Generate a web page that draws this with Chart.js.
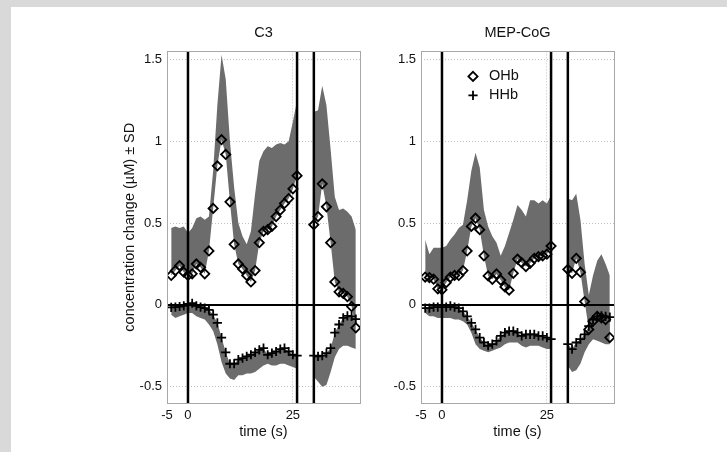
<!DOCTYPE html>
<html><head><meta charset="utf-8">
<script src="https://cdn.jsdelivr.net/npm/chart.js@4/dist/chart.umd.min.js"></script>
<style>
html,body{margin:0;padding:0;background:#fff;width:727px;height:452px;overflow:hidden}
#topbar{position:absolute;left:0;top:0;width:727px;height:7px;background:#d9d9d9}
#leftbar{position:absolute;left:0;top:0;width:11px;height:452px;background:#d9d9d9}
canvas{position:absolute;top:0}
#c1{left:0}
#c2{left:370px}
</style></head><body>
<div id="topbar"></div><div id="leftbar"></div>
<canvas id="c1" width="370" height="452"></canvas>
<canvas id="c2" width="357" height="452"></canvas>
<script>
// ---- data ----
const time = [-4,-3,-2,-1,0,1,2,3,4,5,6,7,8,9,10,11,12,13,14,15,16,17,18,19,20,21,22,23,24,25,26,
              30,31,32,33,34,35,36,37,38,39,40];
const panelTitles = ['C3', 'MEP-CoG'];
const seriesNames = ['OHb', 'HHb'];
const eventTimes = [0, 26, 30];
const xTicks = [-5, 0, 25];
const yTicks = [-0.5, 0, 0.5, 1, 1.5];

// C3
const c3Ohb = [0.18,0.21,0.24,0.20,0.18,0.19,0.25,0.23,0.19,0.33,0.59,0.85,1.01,0.92,0.63,0.37,0.25,0.22,0.18,0.14,0.21,0.38,0.45,0.46,0.48,0.54,0.58,0.62,0.65,0.71,0.79,
               0.49,0.54,0.74,0.60,0.38,0.14,0.08,0.07,0.05,-0.01,-0.14];
const c3OhbPlusSd = [0.47,0.48,0.47,0.48,0.44,0.47,0.53,0.54,0.52,0.54,0.82,1.22,1.53,1.38,1.00,0.72,0.50,0.42,0.37,0.45,0.68,0.88,0.94,0.97,0.96,0.98,0.99,0.98,1.00,1.12,1.25,
                     1.18,1.19,1.34,1.22,0.95,0.66,0.58,0.59,0.57,0.54,0.46];
const c3Hhb = [-0.015,-0.014,-0.01,-0.006,0.006,0.01,-0.006,-0.014,-0.02,-0.03,-0.06,-0.11,-0.20,-0.29,-0.36,-0.36,-0.335,-0.325,-0.315,-0.305,-0.29,-0.275,-0.265,-0.305,-0.295,-0.285,-0.27,-0.265,-0.285,-0.305,-0.31,
               -0.31,-0.315,-0.31,-0.295,-0.265,-0.17,-0.12,-0.08,-0.067,-0.07,-0.087];
const c3HhbMinusSd = [-0.06,-0.08,-0.07,-0.06,-0.05,-0.05,-0.07,-0.08,-0.09,-0.12,-0.16,-0.24,-0.35,-0.42,-0.45,-0.46,-0.43,-0.43,-0.42,-0.42,-0.41,-0.39,-0.37,-0.36,-0.37,-0.37,-0.36,-0.36,-0.37,-0.38,-0.39,
                      -0.44,-0.47,-0.50,-0.49,-0.41,-0.32,-0.27,-0.25,-0.25,-0.26,-0.27];

// MEP-CoG
const mepOhb = [0.17,0.167,0.157,0.098,0.092,0.136,0.169,0.18,0.18,0.21,0.33,0.48,0.53,0.46,0.30,0.177,0.156,0.189,0.152,0.11,0.09,0.193,0.28,0.258,0.234,0.254,0.285,0.295,0.30,0.31,0.36,
                0.217,0.193,0.285,0.20,0.02,-0.15,-0.10,-0.07,-0.08,-0.09,-0.20];
const mepOhbPlusSd = [0.40,0.31,0.35,0.35,0.35,0.36,0.40,0.43,0.47,0.49,0.64,0.82,0.93,0.84,0.58,0.48,0.42,0.38,0.30,0.36,0.44,0.52,0.61,0.58,0.54,0.64,0.64,0.62,0.64,0.62,0.67,
                      0.65,0.64,0.68,0.52,0.25,0.06,0.18,0.27,0.31,0.25,0.18];
const mepHhb = [-0.02,-0.02,-0.014,-0.014,-0.014,-0.014,-0.006,-0.014,-0.02,-0.04,-0.07,-0.11,-0.15,-0.20,-0.23,-0.25,-0.24,-0.22,-0.19,-0.17,-0.16,-0.16,-0.17,-0.19,-0.18,-0.18,-0.18,-0.19,-0.19,-0.20,-0.21,
                -0.24,-0.27,-0.23,-0.21,-0.18,-0.13,-0.09,-0.07,-0.067,-0.07,-0.075];
const mepHhbMinusSd = [-0.05,-0.07,-0.07,-0.08,-0.08,-0.08,-0.08,-0.09,-0.09,-0.10,-0.12,-0.17,-0.24,-0.27,-0.28,-0.29,-0.28,-0.27,-0.26,-0.24,-0.23,-0.23,-0.23,-0.25,-0.26,-0.25,-0.25,-0.25,-0.26,-0.27,-0.27,
                       -0.37,-0.41,-0.40,-0.36,-0.29,-0.24,-0.21,-0.22,-0.23,-0.24,-0.24];

// ---- axis ranges & style ----
const X_MIN = -5, X_MAX = 41, Y_MIN = -0.6, Y_MAX = 1.55;
const FONT = '"Liberation Sans", Arial, sans-serif';
const TXT = '#111';
const BAND = '#6c6c6c';
Chart.defaults.font.family = FONT;

function points(vals) { return time.map((t, i) => ({x: t, y: vals[i]})); }
function segments(vals) {
  const segs = []; let cur = [];
  time.forEach((t, i) => {
    if (i > 0 && t - time[i - 1] > 1.5) { segs.push(cur); cur = []; }
    cur.push({x: t, y: vals[i]});
  });
  segs.push(cur);
  return segs;
}
function bandDatasets(edge, mean) {
  const e = segments(edge), m = segments(mean), out = [];
  e.forEach((seg, k) => {
    out.push({data: seg, fill: '+1', backgroundColor: BAND, borderWidth: 0, pointRadius: 0});
    out.push({data: m[k], fill: false, borderWidth: 0, pointRadius: 0, borderColor: 'rgba(0,0,0,0)'});
  });
  return out;
}

const framePlugin = {
  id: 'frame',
  afterDraw(chart) {
    const a = chart.chartArea, ctx = chart.ctx;
    ctx.save(); ctx.strokeStyle = '#a8a8a8'; ctx.lineWidth = 1;
    ctx.strokeRect(Math.round(a.left) + 0.5, Math.round(a.top) + 0.5, Math.round(a.right - a.left), Math.round(a.bottom - a.top));
    ctx.restore();
  }
};
const inlineLegend = {
  id: 'inlineLegend',
  afterDatasetsDraw(chart, args, opts) {
    if (!opts || !opts.show) return;
    const ctx = chart.ctx, a = chart.chartArea;
    const marks = chart.data.datasets.slice(0, 2);
    marks.forEach((ds, i) => {
      const x = a.left + opts.dx, y = a.top + opts.dy + i * opts.rowGap;
      ctx.save();
      ctx.strokeStyle = '#000'; ctx.lineWidth = ds.borderWidth; ctx.fillStyle = 'rgba(0,0,0,0)';
      Chart.helpers.drawPoint(ctx, {pointStyle: ds.pointStyle, radius: ds.pointRadius, rotation: 0, borderWidth: ds.borderWidth}, x, y);
      ctx.fillStyle = TXT; ctx.font = '14.5px ' + FONT; ctx.textBaseline = 'middle'; ctx.textAlign = 'left';
      ctx.fillText(ds.label, x + 16, y);
      ctx.restore();
    });
  }
};

function makeChart(id, title, ohb, ohbUp, hhb, hhbLow, isLeft) {
  const datasets = [
    {label: seriesNames[0], data: points(ohb), showLine: false, pointStyle: 'rectRot', pointRadius: 4.6,
     borderColor: '#000', borderWidth: 1.8, backgroundColor: 'rgba(0,0,0,0)'},
    {label: seriesNames[1], data: points(hhb), showLine: false, pointStyle: 'cross', pointRadius: 4.6,
     borderColor: '#000', borderWidth: 1.8, backgroundColor: 'rgba(0,0,0,0)'}
  ];
  eventTimes.forEach(t => datasets.push({data: [{x: t, y: Y_MIN}, {x: t, y: Y_MAX}], borderColor: '#000', borderWidth: 2.5, pointRadius: 0, fill: false}));
  datasets.push({data: [{x: X_MIN, y: 0}, {x: X_MAX, y: 0}], borderColor: '#000', borderWidth: 2, pointRadius: 0, fill: false});
  datasets.push(...bandDatasets(ohbUp, ohb));
  datasets.push(...bandDatasets(hhbLow, hhb));

  return new Chart(document.getElementById(id), {
    type: 'line',
    data: {datasets},
    plugins: [framePlugin, inlineLegend],
    options: {
      responsive: false, animation: false, devicePixelRatio: 1, events: [],
      layout: {padding: isLeft ? {left: 117, right: 10, top: 0, bottom: 4} : {left: 0, right: 113, top: 0, bottom: 4}},
      plugins: {
        legend: {display: false}, tooltip: {enabled: false},
        title: {display: true, text: title, fullSize: false, color: TXT,
                font: {family: FONT, size: 14.5, weight: 'normal'}, padding: {top: 24, bottom: 10}},
        inlineLegend: {show: !isLeft, dx: 52, dy: 25, rowGap: 19}
      },
      scales: {
        x: {
          type: 'linear', min: X_MIN, max: X_MAX,
          afterBuildTicks: s => { s.ticks = xTicks.map(v => ({value: v})); },
          afterFit: s => { s.height = 45; },
          ticks: {color: TXT, font: {size: 13}, padding: 5, maxRotation: 0, autoSkip: false, callback: v => String(v)},
          grid: {color: '#c0c0c0', drawTicks: false, lineWidth: 1},
          border: {display: false, dash: [1, 2]},
          title: {display: true, text: 'time (s)', color: TXT, font: {size: 14.5}, padding: {top: 0, bottom: 7.4}}
        },
        y: {
          type: 'linear', min: Y_MIN, max: Y_MAX,
          afterBuildTicks: s => { s.ticks = yTicks.map(v => ({value: v})); },
          afterFit: s => { s.width = isLeft ? 50 : 51; },
          ticks: {color: TXT, font: {size: 13}, padding: 5, autoSkip: false, callback: v => String(v)},
          grid: {color: '#c0c0c0', drawTicks: false, lineWidth: 1},
          border: {display: false, dash: [1, 2]},
          title: {display: isLeft, text: 'concentration change (µM) ± SD', color: TXT, font: {size: 14.5}, padding: {top: 4, bottom: 0}}
        }
      }
    }
  });
}

makeChart('c1', panelTitles[0], c3Ohb, c3OhbPlusSd, c3Hhb, c3HhbMinusSd, true);
makeChart('c2', panelTitles[1], mepOhb, mepOhbPlusSd, mepHhb, mepHhbMinusSd, false);
</script>
</body></html>
